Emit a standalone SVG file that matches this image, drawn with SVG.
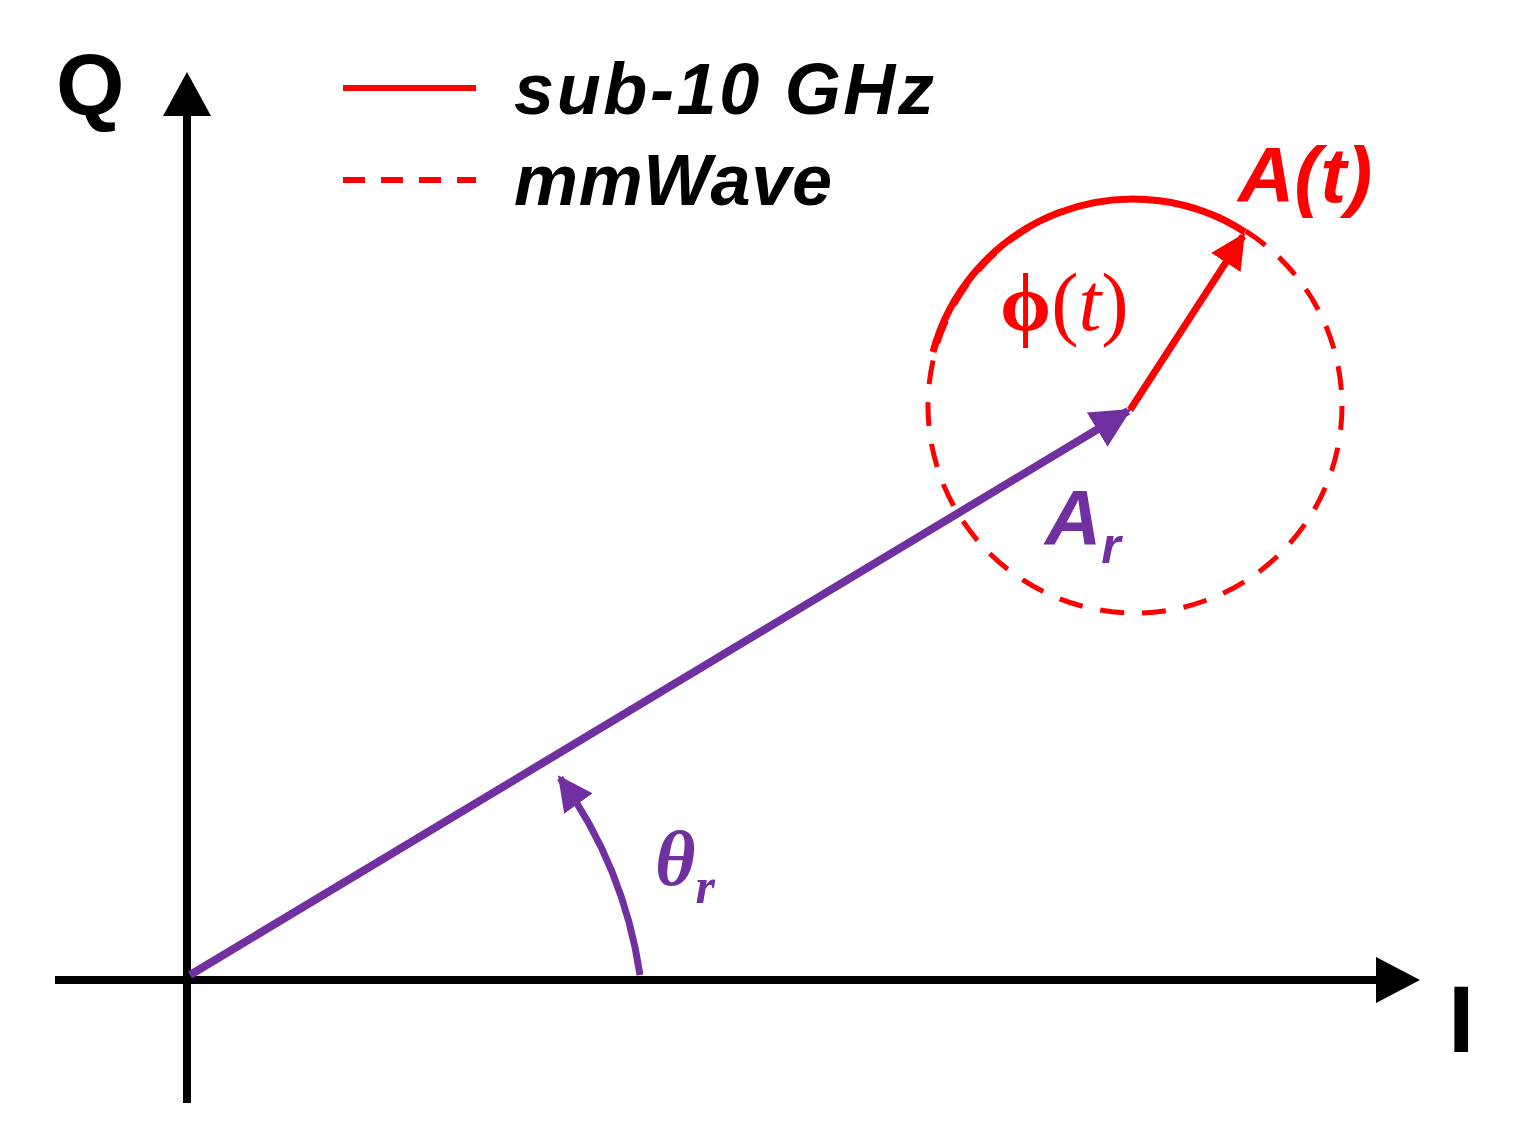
<svg xmlns="http://www.w3.org/2000/svg" width="1528" height="1135" viewBox="0 0 1528 1135">
<style>
.lbl{font-family:"Liberation Sans",Arial,sans-serif;font-weight:bold;font-style:italic}
</style>
<defs>
<marker id="ap" viewBox="0 0 10 10" refX="9" refY="5" markerWidth="5" markerHeight="5" orient="auto" markerUnits="strokeWidth"><path d="M0,0 L10,5 L0,10 Z" fill="#7030A0"/></marker>
<marker id="ar" viewBox="0 0 10 10" refX="9" refY="5" markerWidth="5" markerHeight="5" orient="auto" markerUnits="strokeWidth"><path d="M0,0 L10,5 L0,10 Z" fill="#F00"/></marker>
</defs>
<rect width="1528" height="1135" fill="#fff"/>
<g id="axes">
<line x1="187" y1="1103" x2="187" y2="110" stroke="#000" stroke-width="8"/>
<path d="M187,72 L163,116 L211,116 Z" fill="#000"/>
<line x1="55" y1="980" x2="1380" y2="980" stroke="#000" stroke-width="8"/>
<path d="M1420,980 L1376,957 L1376,1003 Z" fill="#000"/>
<text x="56" y="115" font-family="Liberation Sans,Arial,sans-serif" font-weight="bold" font-size="88">Q</text>
<text x="1448" y="1052" font-family="Liberation Sans,Arial,sans-serif" font-weight="bold" font-size="95">I</text>
</g>
<g id="legend">
<line x1="343" y1="88" x2="476" y2="88" stroke="#F00" stroke-width="6"/>
<line x1="343" y1="180" x2="476" y2="180" stroke="#F00" stroke-width="6" stroke-dasharray="22,16"/>
<text class="lbl" x="514" y="114" font-size="72" textLength="420">sub-10 GHz</text>
<text class="lbl" x="514" y="205" font-size="72" textLength="318">mmWave</text>
</g>
<g id="connectors">
<circle cx="1135" cy="406" r="207" fill="none" stroke="#F00" stroke-width="5" stroke-dasharray="24,18"/>
<path d="M933,352 A207 207 0 0 1 1245,232" fill="none" stroke="#F00" stroke-width="7"/>
<line x1="190" y1="975" x2="1128" y2="411" stroke="#7030A0" stroke-width="8" marker-end="url(#ap)"/>
<line x1="1130" y1="410" x2="1243" y2="236" stroke="#F00" stroke-width="7" marker-end="url(#ar)"/>
<path d="M640,975 A450 450 0 0 0 560,778" fill="none" stroke="#7030A0" stroke-width="7" marker-end="url(#ap)"/>
</g>
<g id="labels">
<text x="1000" y="330" font-family="Liberation Serif,serif" font-size="82" fill="#F00"><tspan font-weight="bold">ϕ</tspan>(<tspan font-style="italic">t</tspan>)</text>
<text class="lbl" x="1238" y="202" font-size="78" fill="#F00">A(t)</text>
<text class="lbl" x="1045" y="545" font-size="78" fill="#7030A0">A<tspan font-size="50" dy="18">r</tspan></text>
<text x="655" y="885" font-family="Liberation Serif,serif" font-style="italic" font-weight="bold" font-size="78" fill="#7030A0">θ<tspan font-size="50" dy="18">r</tspan></text>
</g>
</svg>
